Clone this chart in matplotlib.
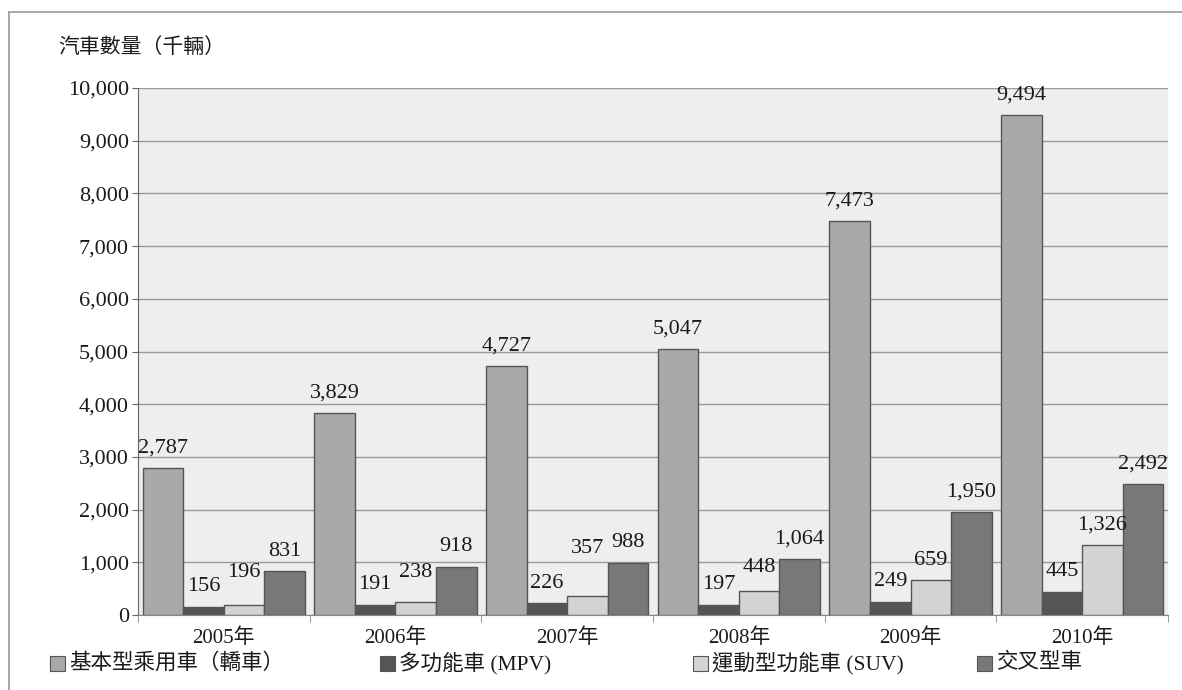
import numpy as np
import matplotlib
matplotlib.use('Agg')
import matplotlib.pyplot as plt
from matplotlib.patches import Rectangle
from matplotlib.lines import Line2D

# ── Data (thousand vehicles) ──
years = ['2005年', '2006年', '2007年', '2008年', '2009年', '2010年']
series_names = ['基本型乘用車（轎車）', '多功能車 (MPV)', '運動型功能車 (SUV)', '交叉型車']
sedan     = [2787, 3829, 4727, 5047, 7473, 9494]
mpv       = [156, 191, 226, 197, 249, 445]
suv       = [196, 238, 357, 448, 659, 1326]
crossover = [831, 918, 988, 1064, 1950, 2492]

colors = ['#a9a9ac', '#555557', '#d3d3d5', '#78787b']
serif = ['Liberation Serif', 'Noto Sans CJK TC']
sans = ['Noto Sans CJK TC', 'DejaVu Sans']

W, H, DPI = 1182, 690, 100
fig = plt.figure(figsize=(W / DPI, H / DPI), dpi=DPI)
px = lambda v: v * 72 / DPI  # pixels -> points

# outer frame (only top and left edges show)
fig.add_artist(Line2D([9 / W, 1], [1 - 12 / H, 1 - 12 / H], color='#9a9a9a', lw=1.2))
fig.add_artist(Line2D([9 / W, 9 / W], [0, 1 - 12 / H], color='#9a9a9a', lw=1.2))

ax = fig.add_axes([138 / W, 75 / H, (1168 - 138) / W, (615 - 88) / H])
ax.set_facecolor('#eeeeee')

x = np.arange(len(years))
bw = 0.236
data = [sedan, mpv, suv, crossover]
# extra lift for a few small labels so they clear their neighbours
lift = {(2, 0): 12, (2, 1): 10, (2, 2): 28, (2, 3): 4}

for i, (vals, c) in enumerate(zip(data, colors)):
    xs = x + (i - 1.5) * bw
    ax.bar(xs, vals, width=bw, color=c, edgecolor='#555555', linewidth=1.0, zorder=3)
    for j, (xi, v) in enumerate(zip(xs, vals)):
        off = 20 + lift.get((i, j), 0)
        ax.annotate(f'{v:,}', (xi, v), xytext=(0, px(off)), textcoords='offset points',
                    ha='center', va='center', fontsize=16, family=serif, color='#1a1a1a',
                    zorder=4)

ax.set_xlim(-0.5, len(years) - 0.5)
ax.set_ylim(0, 10000)
ax.set_yticks(np.arange(0, 10001, 1000))
ax.set_yticklabels([f'{v:,}' for v in range(0, 10001, 1000)], family=serif, fontsize=16,
                   color='#1a1a1a')
ax.yaxis.grid(True, color='#9a9a9a', lw=1.0, zorder=0)
ax.set_axisbelow(True)

ax.set_xticks(x)
ax.set_xticklabels(years, family=serif, fontsize=15, color='#1a1a1a')
ax.set_xticks(np.arange(-0.5, len(years)), minor=True)
ax.tick_params(axis='x', which='major', length=0, pad=px(13))
ax.tick_params(axis='x', which='minor', length=px(7), color='#888888', direction='out')
ax.tick_params(axis='y', length=px(6), color='#666666', pad=px(3))

for s in ['top', 'right']:
    ax.spines[s].set_visible(False)
ax.spines['left'].set_color('#666666')
ax.spines['bottom'].set_color('#888888')

fig.text(58 / W, 1 - 47 / H, '汽車數量（千輛）', family=sans, fontsize=15,
         va='center', ha='left', color='#1a1a1a')

# legend, laid out by hand
leg_x = [50, 380, 693, 977]
leg_y = 663
for lx, name, c in zip(leg_x, series_names, colors):
    fig.add_artist(Rectangle((lx / W, (H - leg_y - 7.5) / H), 15 / W, 15 / H,
                             facecolor=c, edgecolor='#555555', lw=0.8,
                             transform=fig.transFigure))
    fig.text((lx + 19) / W, 1 - leg_y / H, name, family=serif, fontsize=15.5,
             va='center', ha='left', color='#1a1a1a')

fig.savefig('out.png', dpi=DPI)
